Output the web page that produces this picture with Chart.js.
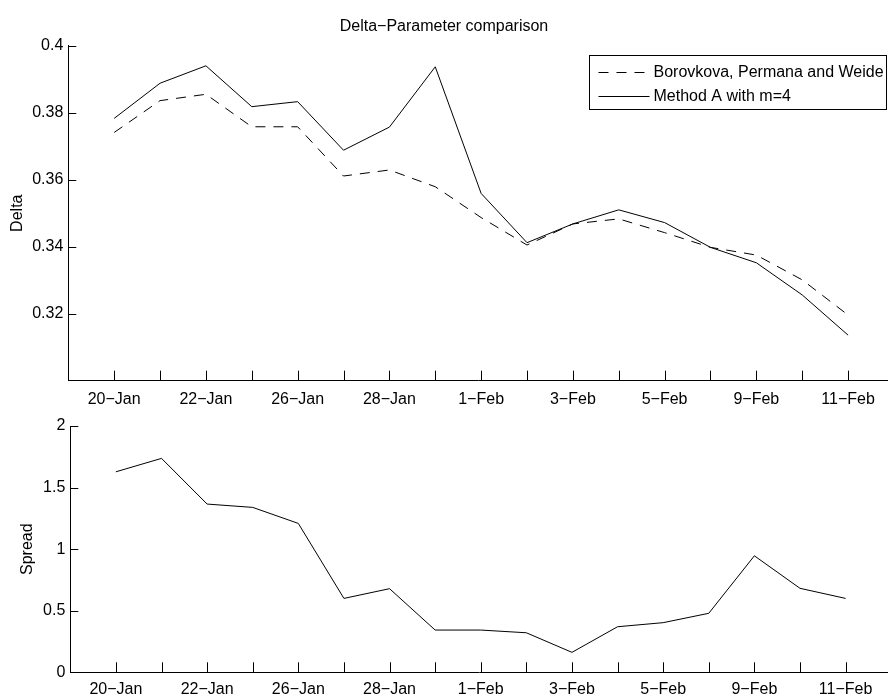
<!DOCTYPE html>
<html>
<head>
<meta charset="utf-8">
<script src="https://cdn.jsdelivr.net/npm/chart.js@4.4.0/dist/chart.umd.min.js"></script>
<style>
  body { margin: 0; background: #fff; }
  #wrap { position: relative; width: 888px; height: 697px; }
  #wrap canvas { position: absolute; left: 0; }
</style>
</head>
<body>
<div id="wrap">
  <canvas id="chart-delta" width="888" height="412" style="top:0"></canvas>
  <canvas id="chart-spread" width="888" height="287" style="top:410px"></canvas>
</div>
<script>
// trading days, only every other one gets a label
const dates = ['20−Jan', '21−Jan', '22−Jan', '23−Jan', '26−Jan', '27−Jan', '28−Jan', '29−Jan',
  '1−Feb', '2−Feb', '3−Feb', '4−Feb', '5−Feb', '6−Feb', '9−Feb', '10−Feb', '11−Feb'];

const deltaBPW = [0.3741, 0.3836, 0.3855, 0.3758, 0.3758, 0.3611, 0.3629, 0.3579,
  0.3487, 0.3405, 0.3468, 0.3483, 0.3442, 0.3398, 0.3375, 0.3301, 0.3196];
const deltaMethodA = [0.3783, 0.3888, 0.3940, 0.3818, 0.3833, 0.3688, 0.3757, 0.3937,
  0.3559, 0.3412, 0.3468, 0.3510, 0.3472, 0.3398, 0.3352, 0.3256, 0.3136];
const spread = [1.628, 1.737, 1.366, 1.339, 1.209, 0.600, 0.679, 0.343,
  0.343, 0.321, 0.162, 0.370, 0.403, 0.479, 0.946, 0.682, 0.600];

const deltaTicks = [0.3, 0.32, 0.34, 0.36, 0.38, 0.4];
const spreadTicks = [0, 0.5, 1, 1.5, 2];

Chart.defaults.font.family = '"Liberation Sans", Arial, Helvetica, sans-serif';
Chart.defaults.font.size = 16;
Chart.defaults.color = '#000';

function points(values) {
  return values.map((v, i) => ({ x: i, y: v }));
}

// matlab style tick marks pointing into the plot
const inwardTicks = {
  id: 'inwardTicks',
  afterDatasetsDraw(chart) {
    const { ctx, chartArea, scales } = chart;
    ctx.save();
    ctx.strokeStyle = '#000';
    ctx.lineWidth = 1;
    ctx.beginPath();
    scales.x.ticks.forEach(t => {
      const px = Math.round(scales.x.getPixelForValue(t.value)) + 0.5;
      ctx.moveTo(px, chartArea.bottom);
      ctx.lineTo(px, chartArea.bottom - 10);
    });
    scales.y.ticks.forEach(t => {
      if (t.value === scales.y.min) return; // sits on the x axis
      const py = Math.round(scales.y.getPixelForValue(t.value)) + 0.5;
      ctx.moveTo(chartArea.left, py);
      ctx.lineTo(chartArea.left + 8, py);
    });
    ctx.stroke();
    ctx.restore();
  }
};

// boxed legend in the top right corner
const boxLegend = {
  id: 'boxLegend',
  afterDraw(chart) {
    const ctx = chart.ctx;
    const x = 589.5, y = 55.5, w = 297, h = 54;
    ctx.save();
    ctx.fillStyle = '#fff';
    ctx.fillRect(x, y, w, h);
    ctx.strokeStyle = '#000';
    ctx.lineWidth = 1;
    ctx.strokeRect(x, y, w, h);
    ctx.font = '16px "Liberation Sans", Arial, sans-serif';
    ctx.textBaseline = 'middle';
    ctx.fillStyle = '#000';
    chart.data.datasets.forEach((ds, i) => {
      const ly = y + 17 + i * 24;
      ctx.setLineDash(ds.borderDash || []);
      ctx.beginPath();
      ctx.moveTo(x + 9, ly);
      ctx.lineTo(x + 60, ly);
      ctx.stroke();
      ctx.setLineDash([]);
      ctx.fillText(ds.label, x + 64, ly + 0.5);
    });
    ctx.restore();
  }
};

function xAxis(max, height, pad) {
  return {
    type: 'linear',
    min: -1,
    max: max,
    grid: { display: false, drawTicks: false },
    border: { display: true, color: '#000', width: 1 },
    ticks: {
      autoSkip: false,
      maxRotation: 0,
      padding: pad,
      callback: v => (v % 2 === 0 ? dates[v] : '')
    },
    afterBuildTicks: s => { s.ticks = dates.map((d, i) => ({ value: i })); },
    afterFit: s => { s.height = height; }
  };
}

function yAxis(min, max, tickValues, label, width, titleOffset, hideFirst) {
  return {
    min: min,
    max: max,
    grid: { display: false, drawTicks: false },
    border: { display: true, color: '#000', width: 1 },
    ticks: {
      padding: 5,
      callback: v => (hideFirst && v === tickValues[0]) ? '' : String(v)
    },
    title: { display: true, text: label, padding: { top: titleOffset, bottom: 0 } },
    afterBuildTicks: s => { s.ticks = tickValues.map(v => ({ value: v })); },
    afterFit: s => { s.width = width; }
  };
}

const lineStyle = { borderColor: '#000', borderWidth: 1, pointRadius: 0, tension: 0, fill: false };

const chartDelta = new Chart(document.getElementById('chart-delta'), {
  type: 'line',
  data: {
    datasets: [
      { label: 'Borovkova, Permana and Weide', data: points(deltaBPW), borderDash: [10, 8], ...lineStyle },
      { label: 'Method A with m=4', data: points(deltaMethodA), ...lineStyle }
    ]
  },
  options: {
    responsive: false,
    animation: false,
    devicePixelRatio: 1,
    layout: { padding: 0 },
    scales: {
      x: xAxis(16.87, 31.3, 9),
      y: yAxis(0.3, 0.4, deltaTicks, 'Delta', 68.3, 8, true)
    },
    plugins: {
      legend: { display: false },
      tooltip: { enabled: false },
      title: {
        display: true,
        text: 'Delta−Parameter comparison',
        font: { size: 16, weight: 'normal' },
        padding: { top: 17, bottom: 9.5 }
      }
    }
  },
  plugins: [inwardTicks, boxLegend]
});

const chartSpread = new Chart(document.getElementById('chart-spread'), {
  type: 'line',
  data: {
    datasets: [
      { label: 'Spread', data: points(spread), ...lineStyle }
    ]
  },
  options: {
    responsive: false,
    animation: false,
    devicePixelRatio: 1,
    layout: { padding: { top: 16, left: 0, right: 0, bottom: 0 } },
    scales: {
      x: xAxis(16.93, 24.7, 8),
      y: yAxis(0, 2, spreadTicks, 'Spread', 70.3, 18, false)
    },
    plugins: {
      legend: { display: false },
      tooltip: { enabled: false }
    }
  },
  plugins: [inwardTicks]
});
</script>
</body>
</html>
